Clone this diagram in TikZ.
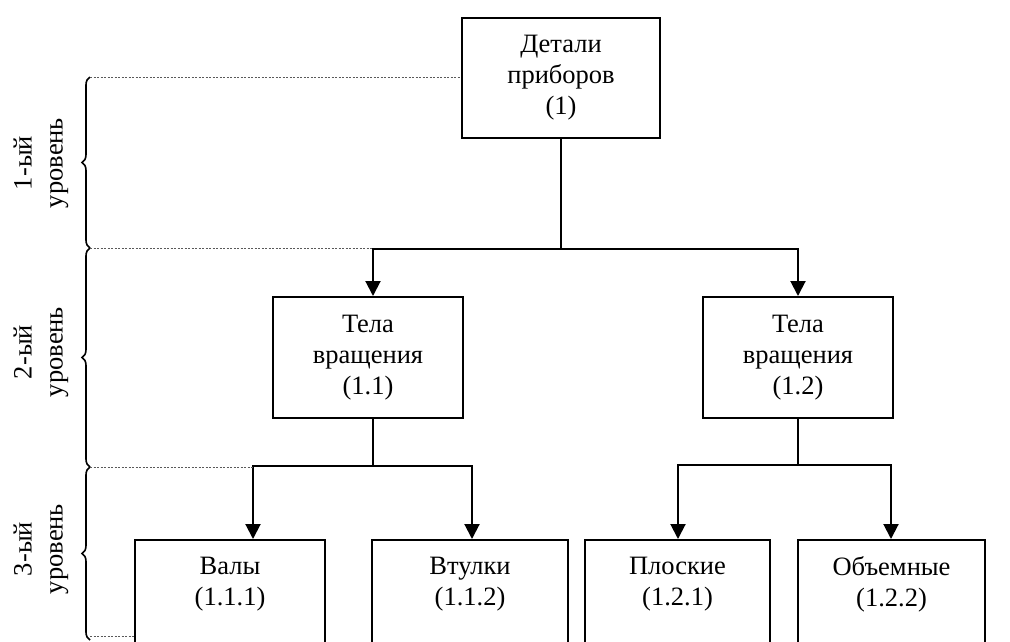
\documentclass[tikz,border=0pt]{standalone}
\usepackage{fontspec}
\setmainfont{Liberation Serif}
\usetikzlibrary{arrows.meta,decorations.pathreplacing}

\tikzset{
  box/.style={draw, line width=2pt, rectangle, inner sep=0pt},
  txt/.style={align=center, inner sep=0pt, font=\fontsize{26.5}{31}\selectfont},
  lvl/.style={align=center, inner sep=0pt, rotate=90, font=\fontsize{26.5}{31}\selectfont},
  conn/.style={line width=2pt},
  arr/.style={line width=2pt, -{Triangle[width=15pt,length=15pt]}},
  guide/.style={line width=0.9pt, gray!70!black, dash pattern=on 2pt off 1.5pt},
  brc/.style={line width=1.6pt, decorate, decoration={brace, amplitude=8pt}}
}

\begin{document}
\begin{tikzpicture}[x=1pt, y=-1pt]
  \useasboundingbox (0,0) rectangle (1010,641);
  \clip (0,0) rectangle (1010,641);

  % level 1
  \node[box, minimum width=198pt, minimum height=120pt] (n1) at (561,78) {};
  \node[txt] (t1) at (n1.center) {Детали\\приборов\\(1)};

  % level 2
  \node[box, minimum width=190pt, minimum height=121pt] (n11) at (368,357.5) {};
  \node[txt] (t11) at (n11.center) {Тела\\вращения\\(1.1)};
  \node[box, minimum width=190pt, minimum height=121pt] (n12) at (798,357.5) {};
  \node[txt] (t12) at (n12.center) {Тела\\вращения\\(1.2)};

  % level 3 (boxes run past the lower edge)
  \node[box, minimum width=190pt, minimum height=140pt, anchor=north] (n111) at (230,539) {};
  \node[txt] (t111) at ([yshift=-45pt]n111.north) {Валы\\(1.1.1)};
  \node[box, minimum width=196pt, minimum height=140pt, anchor=north] (n112) at (470,539) {};
  \node[txt] (t112) at ([yshift=-45pt]n112.north) {Втулки\\(1.1.2)};
  \node[box, minimum width=185pt, minimum height=140pt, anchor=north] (n121) at (677.5,539) {};
  \node[txt] (t121) at ([yshift=-45pt]n121.north) {Плоские\\(1.2.1)};
  \node[box, minimum width=187pt, minimum height=140pt, anchor=north] (n122) at (891.5,539) {};
  \node[txt] (t122) at ([yshift=-45pt]n122.north) {Объемные\\(1.2.2)};

  % junctions of the tree connectors
  \coordinate (j1) at (561,249);
  \coordinate (j11) at (373,466);
  \coordinate (j12) at (798,465);

  % connectors
  \draw[conn] (n1.south) -- (j1);
  \draw[arr] (j1) -| ([xshift=5pt]n11.north);
  \draw[arr] (j1) -| (n12.north);

  \draw[conn] ([xshift=5pt]n11.south) -- (j11);
  \draw[arr] (j11) -| ([xshift=119pt]n111.north west);
  \draw[arr] (j11) -| ([xshift=101pt]n112.north west);

  \draw[conn] (n12.south) -- (j12);
  \draw[arr] (j12) -| ([xshift=94pt]n121.north west);
  \draw[arr] (j12) -| ([xshift=94pt]n122.north west);

  % level markers on the left
  \coordinate (b0) at (90,77);
  \coordinate (b1) at (90,248);
  \coordinate (b2) at (90,467);
  \coordinate (b3) at (90,640);
  \coordinate (b3d) at (90,636);

  \draw[brc] (b1) -- (b0);
  \draw[brc] (b2) -- (b1);
  \draw[brc] (b3) -- (b2);

  \draw[guide] (b0) -- (b0 -| n1.west);
  \draw[guide] (b1) -- (b1 -| j11);
  \draw[guide] (b2) -- ([xshift=119pt]b2 -| n111.west);
  \draw[guide] (b3d) -- (b3d -| n111.west);

  \node[lvl] (lv1) at (41,163) {1-ый\\уровень};
  \node[lvl] (lv2) at (41,352) {2-ый\\уровень};
  \node[lvl] (lv3) at (41,549) {3-ый\\уровень};
\end{tikzpicture}
\end{document}
